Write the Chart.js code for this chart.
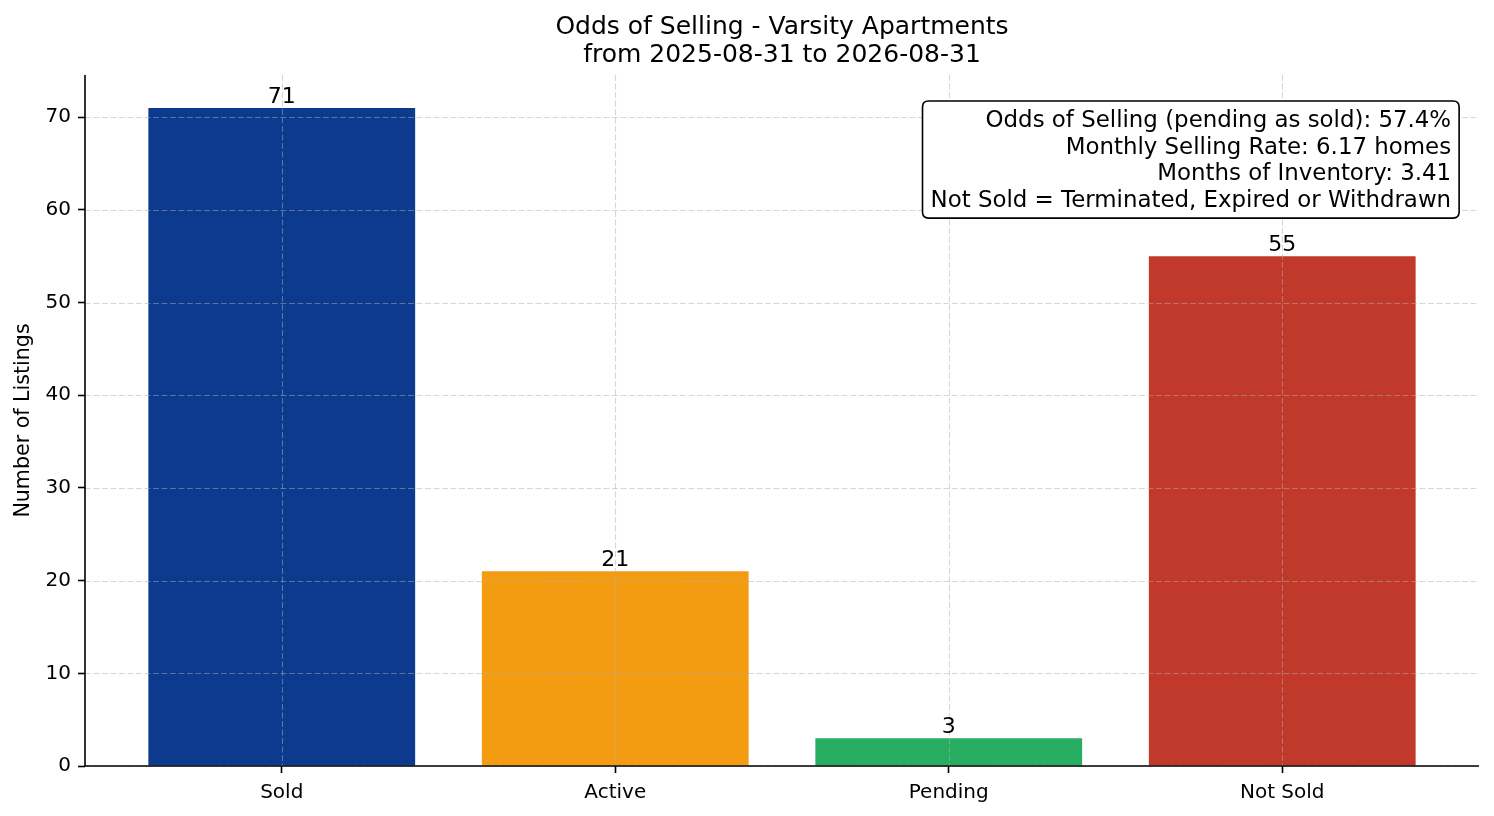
<!DOCTYPE html>
<html>
<head>
<meta charset="utf-8">
<script src="https://cdn.jsdelivr.net/npm/chart.js@4"></script>
<style>
  html, body { margin: 0; padding: 0; background: #fff; }
  #wrap { width: 1494px; height: 816px; position: relative; }
</style>
</head>
<body>
<div id="wrap"><canvas id="c"></canvas></div>
<script>
const categories = ['Sold', 'Active', 'Pending', 'Not Sold'];
const counts = [71, 21, 3, 55];
const barColors = ['#0b3a8f', '#f39c12', '#27ae60', '#c0392b'];
const yTicks = [0, 10, 20, 30, 40, 50, 60, 70];
const titleLines = ['Odds of Selling - Varsity Apartments', 'from 2025-08-31 to 2026-08-31'];
const yAxisTitle = 'Number of Listings';
const infoLines = [
  'Odds of Selling (pending as sold): 57.4%',
  'Monthly Selling Rate: 6.17 homes',
  'Months of Inventory: 3.41',
  'Not Sold = Terminated, Expired or Withdrawn'
];

const FONT = "'DejaVu Sans', sans-serif";

const overlay = {
  id: 'overlay',
  afterDatasetsDraw(chart) {
    const ctx = chart.ctx;
    const a = chart.chartArea;
    const xs = chart.scales.x, ys = chart.scales.y;
    ctx.save();
    // grid lines on top of bars
    ctx.strokeStyle = 'rgba(176,176,176,0.5)';
    ctx.lineWidth = 1.1;
    ctx.setLineDash([5.9, 2.6]);
    yTicks.forEach(v => {
      const y = Math.round(ys.getPixelForValue(v)) + 0.5;
      ctx.beginPath(); ctx.moveTo(a.left, y); ctx.lineTo(a.right, y); ctx.stroke();
    });
    categories.forEach((c, i) => {
      const x = Math.round(xs.getPixelForValue(i)) + 0.5;
      ctx.beginPath(); ctx.moveTo(x, a.top); ctx.lineTo(x, a.bottom); ctx.stroke();
    });
    ctx.setLineDash([]);
    // spines
    ctx.strokeStyle = '#000';
    ctx.lineWidth = 1.6;
    ctx.beginPath();
    ctx.moveTo(a.left, a.top); ctx.lineTo(a.left, a.bottom); ctx.lineTo(a.right, a.bottom);
    ctx.stroke();
    // value labels
    ctx.fillStyle = '#000';
    ctx.font = '22px ' + FONT;
    ctx.textAlign = 'center';
    ctx.textBaseline = 'alphabetic';
    const meta = chart.getDatasetMeta(0);
    meta.data.forEach((bar, i) => {
      ctx.fillText(String(counts[i]), bar.x, bar.y - 5);
    });
    ctx.restore();
  },
  afterDraw(chart) {
    const ctx = chart.ctx;
    const a = chart.chartArea;
    ctx.save();
    // title
    ctx.fillStyle = '#000';
    ctx.font = '25px ' + FONT;
    ctx.textAlign = 'center';
    ctx.textBaseline = 'alphabetic';
    const cx = (a.left + a.right) / 2;
    ctx.fillText(titleLines[0], cx, 34);
    ctx.fillText(titleLines[1], cx, 62);
    // info box
    ctx.font = '22.9px ' + FONT;
    let maxW = 0;
    infoLines.forEach(t => { maxW = Math.max(maxW, ctx.measureText(t).width); });
    const right = a.left + 0.98 * (a.right - a.left);
    const base0 = a.top + 52;
    const lh = 26.7;
    const bx = right - maxW - 8, by = a.top + 26;
    const bw = maxW + 16, bh = (base0 + lh * 3 + 11) - by;
    const r = 6;
    ctx.beginPath();
    ctx.moveTo(bx + r, by);
    ctx.lineTo(bx + bw - r, by); ctx.quadraticCurveTo(bx + bw, by, bx + bw, by + r);
    ctx.lineTo(bx + bw, by + bh - r); ctx.quadraticCurveTo(bx + bw, by + bh, bx + bw - r, by + bh);
    ctx.lineTo(bx + r, by + bh); ctx.quadraticCurveTo(bx, by + bh, bx, by + bh - r);
    ctx.lineTo(bx, by + r); ctx.quadraticCurveTo(bx, by, bx + r, by);
    ctx.closePath();
    ctx.fillStyle = '#fff';
    ctx.fill();
    ctx.strokeStyle = '#000';
    ctx.lineWidth = 1.6;
    ctx.stroke();
    ctx.fillStyle = '#000';
    ctx.textAlign = 'right';
    infoLines.forEach((t, i) => ctx.fillText(t, right, base0 + i * lh));
    ctx.restore();
  }
};

new Chart(document.getElementById('c'), {
  type: 'bar',
  data: {
    datasets: [{
      data: counts.map((v, i) => ({ x: i, y: v })),
      backgroundColor: barColors,
      borderWidth: 0,
      categoryPercentage: 1.0,
      barPercentage: 0.8
    }]
  },
  options: {
    responsive: true,
    maintainAspectRatio: false,
    animation: false,
    devicePixelRatio: 1,
    layout: { padding: { top: 75, right: 15, left: 0, bottom: 0 } },
    plugins: {
      legend: { display: false },
      tooltip: { enabled: false },
      title: { display: false }
    },
    scales: {
      x: {
        type: 'linear',
        offset: false,
        min: -0.59,
        max: 3.59,
        afterBuildTicks: s => { s.ticks = categories.map((c, i) => ({ value: i })); },
        afterFit: s => { s.height = 50; },
        grid: { display: true, offset: false, drawOnChartArea: false, tickLength: 7, tickColor: '#000', tickWidth: 1.6 },
        border: { display: false },
        ticks: {
          autoSkip: false,
          maxRotation: 0,
          padding: 8,
          color: '#000',
          font: { family: FONT, size: 20 },
          callback: v => categories[v]
        }
      },
      y: {
        min: 0,
        max: 74.55,
        afterBuildTicks: s => { s.ticks = yTicks.map(v => ({ value: v })); },
        afterFit: s => { s.width = 85; },
        grid: { display: true, drawOnChartArea: false, tickLength: 7, tickColor: '#000', tickWidth: 1.6 },
        border: { display: false },
        ticks: {
          padding: 7,
          color: '#000',
          font: { family: FONT, size: 20 }
        },
        title: {
          display: true,
          text: yAxisTitle,
          color: '#000',
          font: { family: FONT, size: 20.6 },
          padding: { top: 11, bottom: 0 }
        }
      }
    }
  },
  plugins: [overlay]
});
</script>
</body>
</html>
